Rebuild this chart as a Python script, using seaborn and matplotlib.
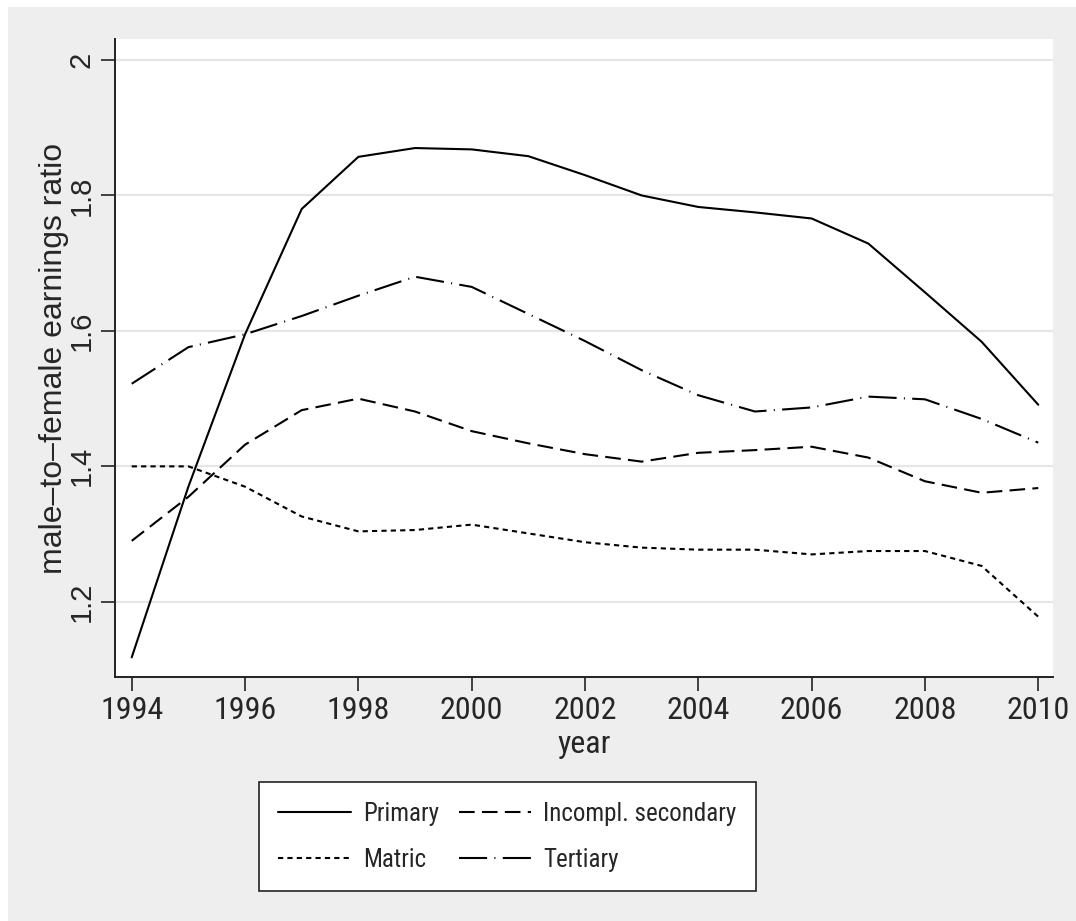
import numpy as np
import pandas as pd
import matplotlib
matplotlib.use("Agg")
import matplotlib.pyplot as plt
import seaborn as sns
from matplotlib.patches import Rectangle
from matplotlib.lines import Line2D

years = list(range(1994, 2011))
primary = [1.118, 1.37, 1.595, 1.78, 1.857, 1.870, 1.868, 1.858, 1.830, 1.800,
           1.783, 1.775, 1.766, 1.729, 1.657, 1.584, 1.491]
incompl_secondary = [1.290, 1.355, 1.432, 1.483, 1.500, 1.481, 1.452, 1.434, 1.418, 1.407,
                     1.420, 1.424, 1.429, 1.413, 1.378, 1.361, 1.368]
matric = [1.400, 1.400, 1.370, 1.326, 1.304, 1.306, 1.314, 1.301, 1.288, 1.280,
          1.277, 1.277, 1.270, 1.275, 1.275, 1.253, 1.178]
tertiary = [1.522, 1.576, 1.595, 1.622, 1.652, 1.680, 1.665, 1.625, 1.585, 1.542,
            1.505, 1.481, 1.487, 1.503, 1.499, 1.470, 1.435]

labels = ["Primary", "Incompl. secondary", "Matric", "Tertiary"]
series = [primary, incompl_secondary, matric, tertiary]

df = pd.concat([pd.DataFrame({"year": years, "ratio": s, "group": lab})
                for lab, s in zip(labels, series)], ignore_index=True)

sns.set_style("white")
plt.rcParams['font.family'] = ['Liberation Sans', 'DejaVu Sans']
narrow = ['Roboto Condensed', 'Archivo Narrow', 'Liberation Sans', 'DejaVu Sans']

bg = "#eeeeee"
lw = 1.5
dash_map = {
    "Primary": "",
    "Incompl. secondary": (7.5, 3.5),
    "Matric": (2.5, 2.0),
    "Tertiary": (13.5, 3.5, 0.5, 3.5),
}

fig = plt.figure(figsize=(10.76, 9.21), dpi=100)
fig.patch.set_facecolor(bg)
# thin white strip on the top and left edges
fig.patches.append(Rectangle((0, 0), 8 / 1076, 1, transform=fig.transFigure,
                             facecolor="white", edgecolor="none", zorder=-10))
fig.patches.append(Rectangle((0, 1 - 7 / 921), 1, 7 / 921, transform=fig.transFigure,
                             facecolor="white", edgecolor="none", zorder=-10))

ax = fig.add_axes([115 / 1076, 1 - 677 / 921, 938 / 1076, 638 / 921])
ax.set_facecolor("white")

sns.lineplot(data=df, x="year", y="ratio", hue="group", style="group",
             palette=["black"] * 4, dashes=dash_map, linewidth=lw,
             legend=False, ax=ax)

ax.set_xlim(1993.705, 2010.26)
ax.set_ylim(1.089, 2.031)
ax.set_xticks(range(1994, 2011, 2))
ax.set_yticks([1.2, 1.4, 1.6, 1.8, 2.0])
ax.set_yticklabels(["1.2", "1.4", "1.6", "1.8", "2"], rotation=90, va="center",
                   fontsize=21)
for t in ax.get_xticklabels():
    t.set_family(narrow)
    t.set_fontsize(23)
ax.yaxis.grid(True, color="#e6e6e6", linewidth=1.6)
ax.set_axisbelow(True)

for side in ["top", "right"]:
    ax.spines[side].set_visible(False)
for side in ["left", "bottom"]:
    ax.spines[side].set_color("#222222")
    ax.spines[side].set_linewidth(1.4)

ax.tick_params(axis="both", which="major", length=10, width=1.2, color="#222222",
               direction="out", left=True, bottom=True)
ax.tick_params(axis="y", pad=4)
ax.tick_params(axis="x", pad=4)

ax.set_xlabel("year", fontsize=23, family=narrow, labelpad=3)
ax.set_ylabel("male\u2013to\u2013female earnings ratio", fontsize=23, labelpad=-1)

# legend laid out row by row: Primary | Incompl. secondary / Matric | Tertiary
order = ["Primary", "Matric", "Incompl. secondary", "Tertiary"]
handles = [Line2D([0], [0], color="black", linewidth=lw,
                  linestyle="-" if dash_map[lab] == "" else (0, dash_map[lab]))
           for lab in order]
leg = fig.legend(handles, order, ncol=2, loc="upper center",
                 bbox_to_anchor=(507.5 / 1076, 1 - 782 / 921),
                 prop={"family": narrow, "size": 18}, frameon=True, fancybox=False,
                 edgecolor="#222222", framealpha=1,
                 handlelength=2.9, handletextpad=0.48, columnspacing=0.8,
                 labelspacing=0.88, borderpad=0.78, borderaxespad=0)
leg.get_frame().set_linewidth(1.2)
leg.get_frame().set_facecolor("white")

fig.savefig("out.png", dpi=100, facecolor=fig.get_facecolor())
